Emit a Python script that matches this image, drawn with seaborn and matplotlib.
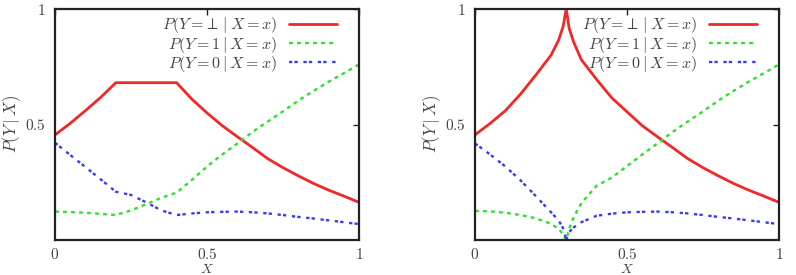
import matplotlib
matplotlib.use("Agg")
import matplotlib.pyplot as plt
import seaborn as sns

# panel (a): plateau version
x_left = [0, 0.05, 0.1, 0.15, 0.2, 0.25, 0.3, 0.35, 0.4, 0.45, 0.5, 0.55,
          0.6, 0.65, 0.7, 0.75, 0.8, 0.85, 0.9, 0.95, 1.0]
red_left = [0.455, 0.505, 0.56, 0.617, 0.681, 0.681, 0.681, 0.681, 0.681, 0.61,
            0.55, 0.495, 0.447, 0.40, 0.352, 0.313, 0.278, 0.245, 0.216, 0.19, 0.163]
green_left = [0.123, 0.121, 0.118, 0.113, 0.108, 0.128, 0.155, 0.183, 0.205, 0.26,
              0.318, 0.37, 0.418, 0.468, 0.513, 0.557, 0.603, 0.645, 0.685, 0.722, 0.76]
blue_left = [0.421, 0.368, 0.316, 0.263, 0.209, 0.195, 0.163, 0.128, 0.108, 0.115,
             0.12, 0.122, 0.123, 0.12, 0.115, 0.108, 0.1, 0.093, 0.085, 0.077, 0.069]

# panel (b): cusp version
x_right = [0, 0.05, 0.1, 0.15, 0.2, 0.25, 0.275, 0.29, 0.3, 0.31, 0.325, 0.35,
           0.4, 0.45, 0.5, 0.55, 0.6, 0.65, 0.7, 0.75, 0.8, 0.85, 0.9, 0.95, 1.0]
red_right = [0.455, 0.505, 0.56, 0.632, 0.714, 0.80, 0.865, 0.925, 1.0, 0.915, 0.855,
             0.78, 0.695, 0.615, 0.555, 0.495, 0.447, 0.40, 0.352, 0.313, 0.278,
             0.245, 0.216, 0.19, 0.163]
green_right = [0.126, 0.124, 0.118, 0.108, 0.094, 0.07, 0.048, 0.025, 0.0, 0.05, 0.1,
               0.16, 0.235, 0.27, 0.32, 0.37, 0.418, 0.468, 0.513, 0.557, 0.603,
               0.645, 0.685, 0.722, 0.76]
blue_right = [0.418, 0.37, 0.318, 0.258, 0.19, 0.12, 0.085, 0.05, 0.0, 0.035, 0.055,
              0.077, 0.105, 0.114, 0.12, 0.122, 0.123, 0.12, 0.115, 0.108, 0.1,
              0.093, 0.085, 0.077, 0.069]

labels = [r"$P(Y =\!\perp \mid X = x)$", r"$P(Y = 1 \mid X = x)$", r"$P(Y = 0 \mid X = x)$"]
colors = ["#f02828", "#2ee02e", "#3a3aee"]
dashes = [None, (1.6, 1.8), (1.4, 0.9, 1.4, 2.4)]

sns.set_theme(style="white")
plt.rcParams["mathtext.fontset"] = "cm"
plt.rcParams["font.family"] = ["DejaVu Serif"]

fig = plt.figure(figsize=(7.96, 2.75), dpi=100)
ax_l = fig.add_axes([55 / 796, 35 / 275, 304 / 796, 231 / 275])
ax_r = fig.add_axes([475 / 796, 35 / 275, 304 / 796, 231 / 275])

panels = [
    (ax_l, x_left, [red_left, green_left, blue_left]),
    (ax_r, x_right, [red_right, green_right, blue_right]),
]

for ax, xs, series in panels:
    for ys, lab, col, dsh in zip(series, labels, colors, dashes):
        sns.lineplot(x=xs, y=ys, ax=ax, color=col, label=lab,
                     lw=2.0 if dsh is None else 1.7, estimator=None)
        if dsh is not None:
            ax.lines[-1].set_dashes(dsh)

    ax.set_xlim(0, 1)
    ax.set_ylim(0, 1)
    ax.set_xticks([0, 0.5, 1])
    ax.set_xticklabels([r"$0$", r"$0.5$", r"$1$"])
    ax.set_yticks([0.5, 1])
    ax.set_yticklabels([r"$0.5$", r"$1$"])
    ax.tick_params(direction="in", length=4, width=1, colors="#222",
                   labelcolor="#444", labelsize=11, pad=7,
                   top=True, right=True)
    ax.tick_params(axis="x", pad=5)
    for sp in ax.spines.values():
        sp.set_linewidth(1.6)
        sp.set_color("#222")
    ax.set_ylabel(r"$P(Y \mid X)$", fontsize=12, color="#444", labelpad=1)
    ax.set_xlabel(r"$X$", fontsize=10, color="#444", labelpad=0)

    # legend handles on the right, like gnuplot keys
    leg = ax.legend(loc="upper right", frameon=False, markerfirst=False,
                    fontsize=11.5, handlelength=3.0, handletextpad=0.8,
                    labelspacing=-0.05, borderaxespad=0.0,
                    bbox_to_anchor=(0.95, 1.0))
    for t in leg.get_texts():
        t.set_color("#444")

fig.savefig("out.png", dpi=100)
plt.close(fig)
